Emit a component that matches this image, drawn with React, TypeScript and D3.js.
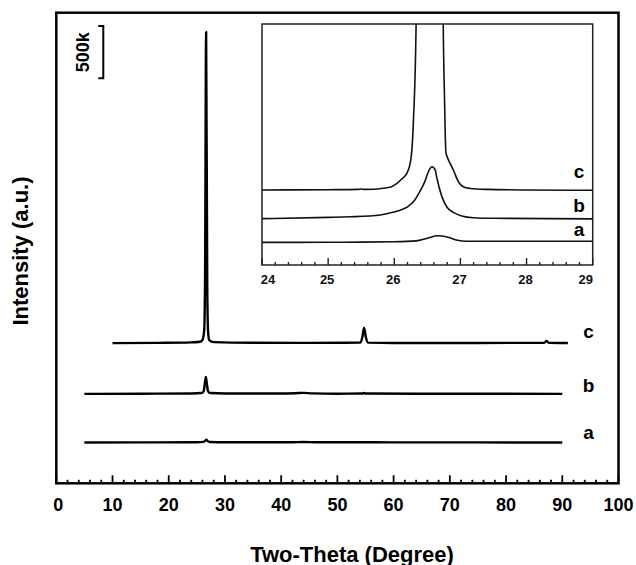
import React from 'react';
import * as d3 from 'd3';

// ---------- data ----------
const seriesNames = ['a', 'b', 'c'];
const mainTickValues = [0, 10, 20, 30, 40, 50, 60, 70, 80, 90, 100];
const insetTickValues = [24, 25, 26, 27, 28, 29];
const scaleBarValue = 500; // k counts
const scaleBarLabel = '500k';

// main panel: [2theta, intensity (k counts, relative to own baseline)]
const mainOffsets = [390, 855, 1340];
const mainA: [number, number][] = [
  [5, 0], [15, 1], [25, 3], [26.2, 6], [26.5, 18], [26.7, 26], [26.9, 16], [27.3, 5],
  [30, 2], [42, 3], [44, 5], [46, 2], [54.7, 3], [60, 1], [75, 1], [90, 0],
];
const mainB: [number, number][] = [
  [5, 0], [15, 2], [24, 4], [25.8, 8], [26.2, 25], [26.45, 110], [26.6, 163], [26.75, 110],
  [27.0, 25], [27.4, 8], [30, 4], [40, 3], [42.5, 6], [44, 10], [45.5, 5], [50, 2],
  [54.4, 3], [54.7, 10], [55.0, 3], [65, 1], [77, 2], [90, 0],
];
const mainC: [number, number][] = [
  [10, 0], [18, 3], [24, 8], [25.6, 14], [26.0, 30], [26.3, 120], [26.45, 550], [26.65, 2975],
  [26.85, 550], [27.0, 110], [27.2, 30], [28, 10], [35, 4], [45, 3], [54.1, 5], [54.45, 60],
  [54.75, 147], [55.05, 60], [55.4, 5], [60, 2], [75, 2], [86.8, 3], [87.2, 22], [87.6, 3], [91, 2],
];

// inset panel: [2theta, intensity (k counts, relative to own baseline)]
const insetOffsets = [75, 154, 249];
const insetA: [number, number][] = [
  [24, 0], [25, 0.5], [25.5, 1], [26.0, 2], [26.33, 5], [26.5, 14], [26.66, 22], [26.8, 18],
  [26.94, 8], [27.1, 4], [28, 4], [29, 4],
];
const insetB: [number, number][] = [
  [24, 0], [25, 4], [25.33, 6], [25.79, 12], [25.98, 21], [26.09, 28], [26.2, 39], [26.31, 62],
  [26.4, 95], [26.46, 122], [26.52, 158], [26.57, 172], [26.62, 161], [26.64, 139], [26.72, 73],
  [26.8, 37], [26.9, 20], [27.02, 9], [27.2, 3], [27.5, 1], [29, -1],
];
const insetC: [number, number][] = [
  [24, 0], [25, 1], [25.45, 2], [25.5, 3.5], [25.55, 2], [25.7, 2.3], [25.83, 5.6], [25.95, 10],
  [26.04, 22], [26.12, 38], [26.19, 55], [26.25, 100], [26.29, 232], [26.33, 554], [26.345, 1000],
  [26.55, 3000], [26.725, 1000], [26.74, 554], [26.76, 299], [26.78, 126], [26.8, 110],
  [26.85, 86], [26.9, 63], [26.95, 36], [27.0, 18], [27.07, 8], [27.15, 5], [27.4, 2], [28, 0], [29, -1],
];

const mainSeries = [mainA, mainB, mainC];
const insetSeries = [insetA, insetB, insetC];

// ---------- layout ----------
const W = 636;
const H = 565;
const FONT = '"Liberation Sans", Arial, Helvetica, sans-serif';
const M = { left: 56.3, right: 618.5, top: 12.7, bottom: 483.3 };
const IN = { left: 262, right: 592.7, top: 24, bottom: 265 };
const mainLabelY = [439.3, 391.7, 337.5];
const insetLabelY = [236, 211.7, 178.4];

export default function App() {
  const x = d3.scaleLinear().domain([0, 100]).range([M.left, M.right]);
  const y = d3.scaleLinear().domain([0, 4500]).range([M.bottom, M.top]);
  const xi = d3.scaleLinear().domain([24, 29]).range([IN.left, IN.right]);
  const yi = d3.scaleLinear().domain([0, 800]).range([IN.bottom, IN.top]);

  const mainMinor = d3.range(0, 100.001, 2).filter((v) => v % 10 !== 0);
  const insetMinor = d3.range(24, 29.001, 0.2).filter((v) => Math.abs(v - Math.round(v)) > 0.01);

  const mainLines = mainSeries.map((s, i) =>
    d3.line<[number, number]>()
      .x((d) => x(d[0]))
      .y((d) => y(d[1] + mainOffsets[i]))
      .curve(d3.curveMonotoneX)(s) as string
  );
  const insetLines = insetSeries.map((s, i) =>
    d3.line<[number, number]>()
      .x((d) => xi(d[0]))
      .y((d) => yi(d[1] + insetOffsets[i]))
      .curve(d3.curveMonotoneX)(s) as string
  );

  const barTop = 26;
  const barBottom = barTop + (y(0) - y(scaleBarValue));
  const barX = 103.3;

  const insetLabelDx = (v: number, i: number) => (i === 0 ? 6 : i === insetTickValues.length - 1 ? -7 : -1);

  return (
    <svg
      width={W}
      height={H}
      style={{ position: 'absolute', left: 0, top: 0, background: '#fff' }}
      fontFamily={FONT}
    >
      <rect x={0} y={0} width={W} height={H} fill="#fff" />
      <defs>
        <clipPath id="insetClip">
          <rect x={IN.left} y={IN.top} width={IN.right - IN.left + 2} height={IN.bottom - IN.top} />
        </clipPath>
        <clipPath id="mainClip">
          <rect x={M.left} y={M.top} width={M.right - M.left} height={M.bottom - M.top} />
        </clipPath>
      </defs>

      {/* main curves */}
      <g clipPath="url(#mainClip)">
        {mainLines.map((d, i) => (
          <path key={i} d={d} fill="none" stroke="#000" strokeWidth={2.4} strokeLinejoin="round" />
        ))}
      </g>

      {/* main ticks */}
      <g stroke="#000" strokeWidth={1.8}>
        {mainTickValues.map((v) => (
          <line key={'M' + v} x1={x(v)} x2={x(v)} y1={M.bottom} y2={M.bottom - 8} />
        ))}
        {mainMinor.map((v) => (
          <line key={'m' + v} x1={x(v)} x2={x(v)} y1={M.bottom} y2={M.bottom - 3.5} />
        ))}
      </g>
      <g fontSize={18} fontWeight="bold" textAnchor="middle" fill="#000">
        {mainTickValues.map((v) => (
          <text key={v} x={x(v) + (v === 0 ? 2 : 0)} y={510.7}>{v}</text>
        ))}
      </g>

      {/* main frame */}
      <rect
        x={M.left}
        y={M.top}
        width={M.right - M.left}
        height={M.bottom - M.top}
        fill="none"
        stroke="#000"
        strokeWidth={2.5}
      />

      {/* series labels */}
      <g fontSize={19} fontWeight="bold" textAnchor="middle" fill="#000">
        {seriesNames.map((n, i) => (
          <text key={n} x={588.5} y={mainLabelY[i]}>{n}</text>
        ))}
      </g>

      {/* scale bar */}
      <path
        d={`M${barX - 5},${barTop}H${barX}V${barBottom}H${barX - 5}`}
        fill="none"
        stroke="#000"
        strokeWidth={2}
      />
      <text
        transform={`translate(88.5,${(barTop + barBottom) / 2}) rotate(-90)`}
        textAnchor="middle"
        fontSize={18}
        fontWeight="bold"
        fill="#000"
      >
        {scaleBarLabel}
      </text>

      {/* inset */}
      <rect
        x={IN.left}
        y={IN.top}
        width={IN.right - IN.left}
        height={IN.bottom - IN.top}
        fill="#fff"
        stroke="#222"
        strokeWidth={1.5}
      />
      <g clipPath="url(#insetClip)">
        {insetLines.map((d, i) => (
          <path key={i} d={d} fill="none" stroke="#111" strokeWidth={1.6} strokeLinejoin="round" />
        ))}
      </g>
      <g stroke="#222" strokeWidth={1.4}>
        {insetTickValues.map((v) => (
          <line key={'I' + v} x1={xi(v)} x2={xi(v)} y1={IN.bottom} y2={IN.bottom - 7} />
        ))}
        {insetMinor.map((v) => (
          <line key={'i' + v} x1={xi(v)} x2={xi(v)} y1={IN.bottom} y2={IN.bottom - 3} />
        ))}
      </g>
      <g fontSize={13} fontWeight="bold" textAnchor="middle" fill="#111">
        {insetTickValues.map((v, i) => (
          <text key={v} x={xi(v) + insetLabelDx(v, i)} y={283.5}>{v}</text>
        ))}
      </g>
      <g fontSize={19} fontWeight="bold" textAnchor="middle" fill="#000">
        {seriesNames.map((n, i) => (
          <text key={n} x={579} y={insetLabelY[i]}>{n}</text>
        ))}
      </g>

      {/* axis titles */}
      <text x={352} y={561.5} textAnchor="middle" fontSize={22} fontWeight="bold" fill="#000">
        Two-Theta (Degree)
      </text>
      <text
        transform="translate(27.5,251) rotate(-90)"
        textAnchor="middle"
        fontSize={22}
        fontWeight="bold"
        fill="#000"
      >
        Intensity (a.u.)
      </text>
    </svg>
  );
}
